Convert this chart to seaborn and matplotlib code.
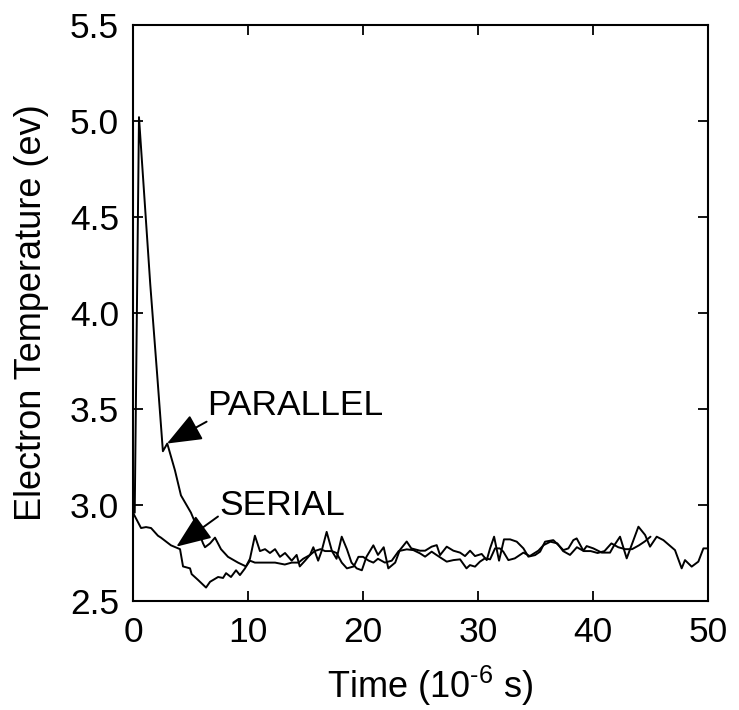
import matplotlib
matplotlib.use("Agg")
import matplotlib.pyplot as plt
import seaborn as sns
import pandas as pd

# ---- data ----
serial_x = [0.0, 0.7, 1.13, 1.57, 2.17, 2.43, 3.3, 4.09, 4.35, 4.96, 5.1, 5.65, 6.35, 6.7, 7.4, 7.83,
            8.09, 8.52, 8.96, 9.3, 9.74, 10.17, 10.6, 11.04, 11.48, 11.91, 12.35, 12.78, 13.22, 13.8,
            14.23, 14.5, 14.96, 15.39, 15.68, 16.1, 16.4, 16.84, 17.3, 17.7, 18.15, 18.6, 19.0, 19.45,
            19.9, 20.3, 20.9, 21.3, 21.8, 22.2, 22.8, 23.2, 23.8, 24.2, 24.96, 25.4, 25.97, 26.41,
            26.7, 27.28, 27.86, 28.44, 28.87, 29.31, 29.74, 30.32, 30.76, 31.05, 31.4, 31.83, 32.26,
            32.79, 33.37, 33.95, 34.38, 34.96, 35.4, 35.83, 36.55, 37.13, 37.42, 37.86, 38.29, 38.58,
            39.16, 39.45, 40.03, 40.76, 41.48, 41.77, 42.35, 42.93, 43.95, 44.53, 44.96, 45.54, 46.12,
            47.13, 47.71, 48.0, 48.58, 49.16, 49.6, 50.0]
serial_y = [2.96, 2.88, 2.885, 2.88, 2.84, 2.83, 2.79, 2.77, 2.68, 2.67, 2.64, 2.61, 2.57, 2.60, 2.625, 2.62,
            2.645, 2.625, 2.66, 2.635, 2.67, 2.72, 2.84, 2.76, 2.77, 2.75, 2.77, 2.73, 2.75, 2.71,
            2.74, 2.68, 2.71, 2.74, 2.78, 2.71, 2.76, 2.86, 2.76, 2.72, 2.835, 2.77, 2.70, 2.67,
            2.66, 2.73, 2.79, 2.74, 2.78, 2.67, 2.70, 2.765, 2.81, 2.774, 2.762, 2.762, 2.783, 2.791,
            2.739, 2.783, 2.762, 2.752, 2.734, 2.762, 2.734, 2.745, 2.713, 2.774, 2.835, 2.71, 2.821,
            2.821, 2.809, 2.774, 2.731, 2.739, 2.757, 2.809, 2.817, 2.783, 2.765, 2.774, 2.817, 2.826,
            2.762, 2.786, 2.774, 2.752, 2.752, 2.783, 2.835, 2.722, 2.887, 2.844, 2.783, 2.835, 2.817,
            2.765, 2.67, 2.713, 2.679, 2.705, 2.774, 2.774]

parallel_x = [0.15, 0.52, 1.5, 2.1, 2.6, 2.98, 3.65, 4.17, 5.04, 5.39, 6.09, 6.26, 6.7, 7.13, 7.65, 8.26,
              9.13, 9.83, 10.17, 10.6, 11.5, 12.35, 13.2, 13.8, 14.4, 14.8, 15.4, 15.8, 16.3, 16.7,
              17.3, 17.7, 18.15, 18.6, 19.2, 19.6, 20.0, 20.5, 20.9, 21.3, 21.9, 22.5, 23.1, 23.8,
              24.38, 24.96, 25.4, 25.97, 26.41, 26.84, 27.28, 27.86, 28.44, 29.0, 29.3, 29.74, 30.17,
              30.6, 31.05, 31.48, 31.9, 32.2, 32.64, 33.2, 33.95, 34.5, 35.25, 35.7, 36.3, 36.9, 37.4,
              38.0, 38.6, 39.2, 39.8, 40.4, 41.0, 41.6, 42.2, 42.8, 43.4, 44.0, 44.5, 45.0]
parallel_y = [2.96, 5.02, 4.15, 3.68, 3.28, 3.32, 3.18, 3.05, 2.96, 2.91, 2.80, 2.78, 2.80, 2.83, 2.77, 2.73,
              2.70, 2.68, 2.71, 2.70, 2.70, 2.70, 2.69, 2.70, 2.70, 2.72, 2.74, 2.76, 2.77, 2.76,
              2.76, 2.75, 2.70, 2.67, 2.68, 2.73, 2.73, 2.71, 2.70, 2.72, 2.70, 2.71, 2.76, 2.769,
              2.765, 2.748, 2.731, 2.757, 2.739, 2.722, 2.705, 2.713, 2.717, 2.67, 2.687, 2.679, 2.705,
              2.722, 2.717, 2.774, 2.774, 2.757, 2.713, 2.722, 2.752, 2.734, 2.762, 2.791, 2.809, 2.80, 2.76,
              2.74, 2.78, 2.76, 2.76, 2.75, 2.76, 2.80, 2.78, 2.77, 2.77, 2.79, 2.81, 2.835]

x_ticks = [0, 10, 20, 30, 40, 50]
y_ticks = [2.5, 3.0, 3.5, 4.0, 4.5, 5.0, 5.5]

sns.set_style("ticks")
plt.rcParams["font.family"] = ["Liberation Sans", "DejaVu Sans"]
plt.rcParams["mathtext.fontset"] = "custom"
plt.rcParams["mathtext.rm"] = "Liberation Sans"
plt.rcParams["mathtext.it"] = "Liberation Sans:italic"
plt.rcParams["mathtext.bf"] = "Liberation Sans:bold"
plt.rcParams["text.color"] = "black"
plt.rcParams["axes.labelcolor"] = "black"
plt.rcParams["xtick.color"] = "black"
plt.rcParams["ytick.color"] = "black"

fig = plt.figure(figsize=(7.39, 7.10), dpi=100)
ax = fig.add_axes([133 / 739, 1 - 601 / 710, (708 - 133) / 739, (601 - 25) / 710])

df_s = pd.DataFrame({"x": serial_x, "y": serial_y})
df_p = pd.DataFrame({"x": parallel_x, "y": parallel_y})
sns.lineplot(data=df_s, x="x", y="y", ax=ax, color="black", lw=1.4, sort=False, estimator=None)
sns.lineplot(data=df_p, x="x", y="y", ax=ax, color="black", lw=1.4, sort=False, estimator=None)

ax.set_xlim(0, 50)
ax.set_ylim(2.5, 5.5)
ax.set_xticks(x_ticks)
ax.set_yticks(y_ticks)
ax.set_xticklabels([str(t) for t in x_ticks])
ax.set_yticklabels([f"{t:.1f}" for t in y_ticks])

for s in ax.spines.values():
    s.set_linewidth(1.5)
    s.set_color("black")
    s.set_visible(True)

ax.tick_params(direction="in", length=7, width=1.3, labelsize=25.5, colors="black",
               top=True, right=True)
ax.tick_params(axis="x", pad=11)
ax.tick_params(axis="y", pad=10)

ax.set_xlabel(r"Time (10$^{\text{-6}}$ s)", fontsize=26)
ax.set_ylabel("Electron Temperature (ev)", fontsize=26)
ax.xaxis.set_label_coords(0.5165, (601 - 698) / 576)
ax.xaxis.label.set_verticalalignment("baseline")
ax.yaxis.set_label_coords((49 - 133) / 575, 0.5)

arrow_style = "-|>,head_length=0.8,head_width=0.32"
ax.annotate("", xy=(2.95, 3.32), xytext=(6.4, 3.434),
            arrowprops=dict(arrowstyle=arrow_style, mutation_scale=27, color="black", lw=1.4,
                            shrinkA=0, shrinkB=0))
ax.annotate("", xy=(3.77, 2.783), xytext=(7.39, 2.94),
            arrowprops=dict(arrowstyle=arrow_style, mutation_scale=27, color="black", lw=1.4,
                            shrinkA=0, shrinkB=0))
ax.text(6.45, 3.469, "PARALLEL", fontsize=25.5, ha="left", va="baseline")
ax.text(7.55, 2.948, "SERIAL", fontsize=25.5, ha="left", va="baseline")

fig.savefig("out.png", dpi=100)
